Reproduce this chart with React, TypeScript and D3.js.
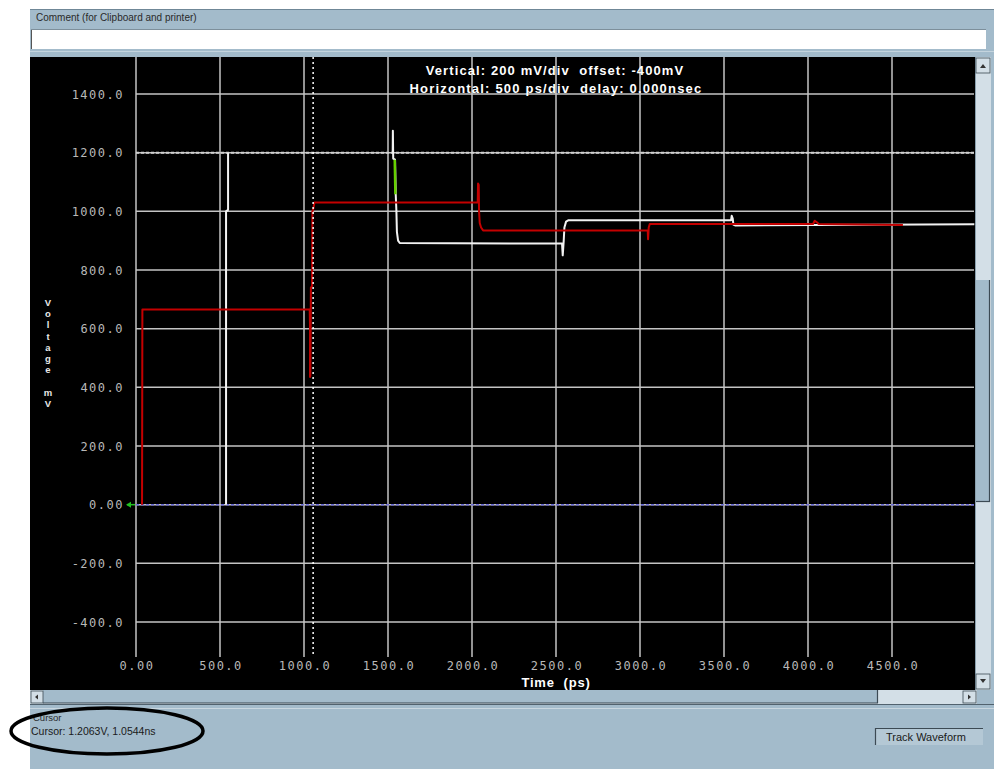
import React from 'react';
import * as d3 from 'd3';

const W = 994;
const H = 769;

// Axis ticks and labels
const timeTicks = [0, 500, 1000, 1500, 2000, 2500, 3000, 3500, 4000, 4500];
const timeTickLabels = ['0.00', '500.0', '1000.0', '1500.0', '2000.0', '2500.0', '3000.0', '3500.0', '4000.0', '4500.0'];
const voltTicks = [1400, 1200, 1000, 800, 600, 400, 200, 0, -200, -400];
const voltTickLabels = ['1400.0', '1200.0', '1000.0', '800.0', '600.0', '400.0', '200.0', '0.00', '-200.0', '-400.0'];

// Red trace (ps, mV), from its first edge onward
const redTime = [36, 38, 1034, 1036, 1036, 1038, 1041, 1048, 1050, 1056, 1062, 2034, 2036, 2040, 2042, 2046, 2054, 2066, 3046, 3048, 3052, 3058, 4030, 4040, 4055, 4062, 4565];
const redVolt = [0, 665, 665, 600, 435, 440, 740, 745, 1000, 1010, 1030, 1030, 1095, 1090, 1000, 960, 945, 935, 935, 905, 945, 957, 957, 968, 962, 957, 953];

// White trace: initial rise up to the 1200 mV reference
const whiteRiseTime = [536, 536, 548, 548];
const whiteRiseVolt = [0, 1000, 1005, 1200];

// White trace: overshoot and settling
const whiteSettleTime = [1528, 1529, 1531, 1542, 1546, 1550, 1553, 1560, 1570, 2536, 2540, 2546, 2550, 2560, 2575, 3542, 3546, 3552, 3556, 3566, 4990];
const whiteSettleVolt = [1200, 1275, 1180, 1176, 1058, 1000, 930, 900, 892, 890, 850, 900, 945, 965, 970, 970, 985, 975, 955, 952, 956];

// Green trace segment visible over the white edge
const greenTime = [1540, 1544];
const greenVolt = [1176, 1058];

// Cursor and reference levels
const cursorTime = 1054.4;
const refHigh = 1200;
const refZero = 0;

const PANEL = '#a3bbcb';
const PANEL_DARK = '#6f8797';
const TRACK = '#d3dfe7';
const SP = '\u00a0';

export default function App() {
  const x = d3.scaleLinear().domain([0, 5000]).range([136, 976]);
  const y = d3.scaleLinear().domain([-400, 1400]).range([622, 94]);

  const plotRight = 974;
  const gridTop = 57;
  const gridBottom = 657;

  const line = d3
    .line<[number, number]>()
    .x((d) => x(d[0]))
    .y((d) => y(d[1]));

  const zip = (t: number[], v: number[]) => t.map((tt, i) => [tt, v[i]] as [number, number]);

  const redPath = line(zip(redTime, redVolt)) || '';
  const whiteRisePath = line(zip(whiteRiseTime, whiteRiseVolt)) || '';
  const whiteSettlePath = line(zip(whiteSettleTime, whiteSettleVolt)) || '';
  const greenPath = line(zip(greenTime, greenVolt)) || '';

  const tickFont = "'DejaVu Sans Mono', monospace";
  const uiFont = "'Liberation Sans', Arial, sans-serif";

  const yLabelChars = 'Voltage mV'.split('');

  return (
    <svg
      width={W}
      height={H}
      viewBox={`0 0 ${W} ${H}`}
      style={{ position: 'absolute', left: 0, top: 0, display: 'block' }}
    >
      <rect x={0} y={0} width={W} height={H} fill="#ffffff" />

      {/* window panel */}
      <rect x={30} y={9} width={W - 30} height={H - 9} fill={PANEL} />
      <line x1={30} x2={W} y1={9.5} y2={9.5} stroke={PANEL_DARK} strokeWidth={1} />
      <text x={36} y={21} fontFamily={uiFont} fontSize={10} fill="#2a2a2a">
        Comment (for Clipboard and printer)
      </text>
      <rect x={31} y={29} width={955} height={20} fill="#ffffff" />
      <line x1={31.5} x2={31.5} y1={29} y2={49} stroke="#555" strokeWidth={1} />
      <line x1={31} x2={986} y1={29.5} y2={29.5} stroke="#7d8f9b" strokeWidth={1} />
      <line x1={30} x2={W} y1={51.5} y2={51.5} stroke="#c4d4de" strokeWidth={1} />

      {/* plot area */}
      <rect x={30} y={57} width={945} height={633} fill="#000000" />

      {/* grid */}
      {timeTicks.map((t) => (
        <line
          key={`vg${t}`}
          x1={x(t)}
          x2={x(t)}
          y1={gridTop}
          y2={gridBottom}
          stroke="#c4c4c4"
          strokeWidth={1.5}
        />
      ))}
      {voltTicks.map((v) => (
        <line
          key={`hg${v}`}
          x1={x(0)}
          x2={plotRight}
          y1={y(v)}
          y2={y(v)}
          stroke="#c4c4c4"
          strokeWidth={1.5}
        />
      ))}

      {/* tick labels */}
      {voltTicks.map((v, i) => (
        <text
          key={`yl${v}`}
          x={124}
          y={y(v) + 4.5}
          textAnchor="end"
          fontFamily={tickFont}
          fontSize={12}
          letterSpacing={1.5}
          fill="#b8b8b8"
        >
          {voltTickLabels[i]}
        </text>
      ))}
      {timeTicks.map((t, i) => (
        <text
          key={`xl${t}`}
          x={x(t) + 1}
          y={670}
          textAnchor="middle"
          fontFamily={tickFont}
          fontSize={12}
          letterSpacing={1.5}
          fill="#b8b8b8"
        >
          {timeTickLabels[i]}
        </text>
      ))}

      {/* titles */}
      <text x={555} y={75} textAnchor="middle" fontFamily={uiFont} fontWeight="bold" fontSize={13} letterSpacing={1.1} fill="#ffffff">
        {`Vertical: 200 mV/div${SP}${SP}offset: -400mV`}
      </text>
      <text x={556} y={93} textAnchor="middle" fontFamily={uiFont} fontWeight="bold" fontSize={13} letterSpacing={1.2} fill="#ffffff">
        {`Horizontal: 500 ps/div${SP}${SP}delay: 0.000nsec`}
      </text>
      <text x={556} y={687} textAnchor="middle" fontFamily={uiFont} fontWeight="bold" fontSize={13} letterSpacing={0.8} fill="#ffffff">
        {`Time${SP}${SP}(ps)`}
      </text>
      {/* stacked axis title */}
      {yLabelChars.map((c, i) => (
        <text
          key={`yc${i}`}
          x={48}
          y={306 + i * 11.2}
          fontFamily={uiFont}
          fontWeight="bold"
          fontSize={9.5}
          fill="#e8e8e8"
          textAnchor="middle"
        >
          {c}
        </text>
      ))}

      {/* reference levels */}
      <line
        x1={x(0)}
        x2={plotRight}
        y1={y(refHigh)}
        y2={y(refHigh)}
        stroke="#cfcfcf"
        strokeWidth={2}
        strokeDasharray="3 2"
      />
      <line
        x1={x(0)}
        x2={plotRight}
        y1={y(refZero)}
        y2={y(refZero)}
        stroke="#6a6ad8"
        strokeWidth={1.5}
        strokeDasharray="3 2"
      />

      {/* traces */}
      <g fill="none" strokeLinejoin="round">
        <path d={whiteRisePath} stroke="#f2f2f2" strokeWidth={2} />
        <path d={whiteSettlePath} stroke="#f2f2f2" strokeWidth={2} />
        <path d={redPath} stroke="#c40000" strokeWidth={2} />
        <path d={greenPath} stroke="#66d000" strokeWidth={2.5} />
      </g>

      {/* ground marker */}
      <line x1={127} x2={135} y1={y(0)} y2={y(0)} stroke="#22c022" strokeWidth={1.5} />
      <path d={`M126,${y(0)} L131,${y(0) - 3} L131,${y(0) + 3} Z`} fill="#22c022" />

      {/* cursor */}
      <line
        x1={x(cursorTime)}
        x2={x(cursorTime)}
        y1={gridTop}
        y2={gridBottom}
        stroke="#ffffff"
        strokeWidth={1.5}
        strokeDasharray="2 3"
      />

      {/* vertical scrollbar */}
      <rect x={975} y={57} width={16} height={633} fill={TRACK} />
      <line x1={975.5} x2={975.5} y1={57} y2={690} stroke="#8aa0ae" strokeWidth={1} />
      <rect x={976} y={280} width={14} height={222} fill={PANEL} />
      <line x1={989.5} x2={989.5} y1={280} y2={502} stroke="#3c4a54" strokeWidth={1.2} />
      <line x1={976} x2={990} y1={501.5} y2={501.5} stroke="#3c4a54" strokeWidth={1.2} />
      <rect x={976} y={58} width={14} height={15} fill={TRACK} stroke="#3c4a54" strokeWidth={0.8} />
      <path d="M980,68 L983,64 L986,68 Z" fill="#333" />
      <rect x={976} y={674} width={14} height={15} fill={TRACK} stroke="#3c4a54" strokeWidth={0.8} />
      <path d="M980,679 L983,683 L986,679 Z" fill="#333" />

      {/* horizontal scrollbar */}
      <rect x={30} y={690} width={947} height={14} fill={TRACK} />
      <rect x={43} y={690} width={835} height={13} fill={PANEL} />
      <line x1={43} x2={878} y1={703} y2={703} stroke="#3c4a54" strokeWidth={1.2} />
      <line x1={877.5} x2={877.5} y1={690} y2={703} stroke="#3c4a54" strokeWidth={1.2} />
      <rect x={31} y={691} width={12} height={12} fill={TRACK} stroke="#3c4a54" strokeWidth={0.8} />
      <path d="M35,697 L38,694.5 L38,699.5 Z" fill="#333" />
      <rect x={963} y={691} width={13} height={12} fill={TRACK} stroke="#3c4a54" strokeWidth={0.8} />
      <path d="M971,697 L968,694.5 L968,699.5 Z" fill="#333" />

      {/* status area */}
      <line x1={30} x2={W} y1={704.5} y2={704.5} stroke="#51626e" strokeWidth={1} />
      <line x1={30} x2={W} y1={708.5} y2={708.5} stroke="#c9d7e0" strokeWidth={1} />
      <text x={33} y={721} fontFamily={uiFont} fontSize={9.5} fill="#2a2a2a">
        Cursor
      </text>
      <text x={31} y={735} fontFamily={uiFont} fontSize={10.5} fill="#1a1a1a">
        Cursor: 1.2063V, 1.0544ns
      </text>
      <ellipse cx={107} cy={731} rx={96} ry={23} fill="none" stroke="#000000" strokeWidth={3.5} />

      <rect x={875} y={728} width={108} height={17} fill="#b4c8d5" />
      <line x1={875} x2={983} y1={728.5} y2={728.5} stroke="#3c4a54" strokeWidth={1.2} />
      <line x1={875.5} x2={875.5} y1={728} y2={745} stroke="#3c4a54" strokeWidth={1.2} />
      <text x={886} y={741} fontFamily={uiFont} fontSize={11} fill="#1a1a1a">
        Track Waveform
      </text>
    </svg>
  );
}
